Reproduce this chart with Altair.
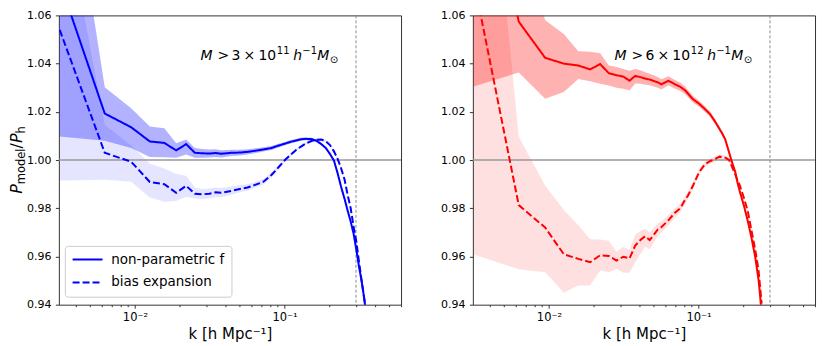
import altair as alt
import pandas as pd

FONT = "DejaVu Sans"
BLUE = "#0000ff"
RED = "#ff0000"
METHODS = ["non-parametric f", "bias expansion"]

# ---------------- left panel: M > 3e11 h^-1 Msun ----------------
k_left = [0.00314, 0.00628, 0.00943, 0.01257, 0.01571, 0.01885, 0.02199, 0.02513,
          0.02828, 0.03142, 0.03456, 0.03770, 0.04398, 0.05027, 0.05655, 0.06283,
          0.07226, 0.08168, 0.09111, 0.10053, 0.10996, 0.11938, 0.12881, 0.13823,
          0.15080, 0.16336, 0.17593, 0.18850, 0.20106, 0.21363, 0.22619, 0.23876,
          0.25133, 0.26389, 0.27646, 0.28903, 0.30159, 0.31416, 0.32673, 0.33929,
          0.34558]
np_left = [1.0740, 1.0193, 1.0136, 1.0077, 1.0071, 1.0040, 1.0066, 1.0030,
           1.0028, 1.0027, 1.0029, 1.0026, 1.0030, 1.0031, 1.0034, 1.0038,
           1.0044, 1.0050, 1.0060, 1.0068, 1.0076, 1.0081, 1.0086, 1.0088,
           1.0087, 1.0080, 1.0066, 1.0050, 1.0025, 0.9998, 0.9945, 0.9888,
           0.9840, 0.9790, 0.9745, 0.9695, 0.9628, 0.9558, 0.9500, 0.9432,
           0.9395]
np_left_lo = [1.0098, 1.0080, 1.0050, 1.0013, 1.0012, 1.0009, 1.0023, 1.0009,
              1.0010, 1.0011, 1.0013, 1.0011, 1.0017, 1.0019, 1.0023, 1.0028,
              1.0035, 1.0042, 1.0052, 1.0061, 1.0069, 1.0075, 1.0080, 1.0082,
              1.0082, 1.0075, 1.0061, 1.0045, 1.0020, 0.9993, 0.9940, 0.9883,
              0.9835, 0.9785, 0.9740, 0.9690, 0.9623, 0.9553, 0.9495, 0.9427,
              0.9390]
np_left_hi = [1.1500, 1.0302, 1.0215, 1.0139, 1.0132, 1.0070, 1.0085, 1.0050,
              1.0046, 1.0044, 1.0045, 1.0041, 1.0043, 1.0043, 1.0045, 1.0048,
              1.0053, 1.0058, 1.0068, 1.0075, 1.0083, 1.0087, 1.0092, 1.0094,
              1.0092, 1.0085, 1.0071, 1.0055, 1.0030, 1.0003, 0.9950, 0.9893,
              0.9845, 0.9795, 0.9750, 0.9700, 0.9633, 0.9563, 0.9505, 0.9437,
              0.9400]
bias_left = [1.0540, 1.0030, 0.9993, 0.9909, 0.9900, 0.9864, 0.9893, 0.9860,
             0.9858, 0.9860, 0.9866, 0.9864, 0.9872, 0.9880, 0.9886, 0.9896,
             0.9910, 0.9938, 0.9970, 1.0000, 1.0022, 1.0042, 1.0056, 1.0068,
             1.0079, 1.0084, 1.0085, 1.0078, 1.0062, 1.0036, 1.0005, 0.9965,
             0.9920, 0.9855, 0.9800, 0.9725, 0.9662, 0.9578, 0.9502, 0.9432,
             0.9400]
bias_left_lo = [0.9915, 0.9918, 0.9910, 0.9845, 0.9827, 0.9830, 0.9848, 0.9840,
                0.9838, 0.9840, 0.9846, 0.9846, 0.9856, 0.9866, 0.9873, 0.9884,
                0.9899, 0.9928, 0.9961, 0.9992, 1.0015, 1.0036, 1.0050, 1.0062,
                1.0073, 1.0079, 1.0080, 1.0073, 1.0057, 1.0031, 1.0000, 0.9960,
                0.9915, 0.9850, 0.9795, 0.9720, 0.9657, 0.9573, 0.9497, 0.9427,
                0.9395]
bias_left_hi = [1.1140, 1.0146, 1.0060, 0.9985, 0.9965, 0.9942, 0.9935, 0.9885,
                0.9880, 0.9882, 0.9886, 0.9884, 0.9890, 0.9896, 0.9900, 0.9909,
                0.9921, 0.9948, 0.9979, 1.0008, 1.0029, 1.0048, 1.0062, 1.0074,
                1.0085, 1.0089, 1.0090, 1.0083, 1.0067, 1.0041, 1.0010, 0.9970,
                0.9925, 0.9860, 0.9805, 0.9730, 0.9667, 0.9583, 0.9507, 0.9437,
                0.9405]

# ---------------- right panel: M > 6e12 h^-1 Msun ----------------
k_right = [0.00314, 0.00628, 0.00943, 0.01257, 0.01571, 0.01885, 0.02199, 0.02513,
           0.02828, 0.03142, 0.03456, 0.03770, 0.04084, 0.04398, 0.04712, 0.05341,
           0.05655, 0.06283, 0.06912, 0.07540, 0.08168, 0.08482, 0.09111, 0.10053,
           0.10996, 0.11938, 0.12881, 0.13823, 0.14451, 0.15080, 0.16022, 0.16651,
           0.17593, 0.18221, 0.18850, 0.20106, 0.21363, 0.22619, 0.23876, 0.25133,
           0.25761, 0.26389]
np_right = [1.1500, 1.0574, 1.0424, 1.0400, 1.0392, 1.0376, 1.0398, 1.0360,
            1.0352, 1.0346, 1.0329, 1.0349, 1.0344, 1.0338, 1.0334, 1.0322,
            1.0314, 1.0329, 1.0315, 1.0304, 1.0288, 1.0276, 1.0254, 1.0234,
            1.0212, 1.0190, 1.0160, 1.0128, 1.0108, 1.0085, 1.0030, 0.9995,
            0.9950, 0.9905, 0.9870, 0.9810, 0.9745, 0.9675, 0.9600, 0.9505,
            0.9440, 0.9360]
np_right_lo = [1.0305, 1.0363, 1.0254, 1.0282, 1.0336, 1.0327, 1.0316, 1.0309,
               1.0300, 1.0296, 1.0288, 1.0318, 1.0316, 1.0312, 1.0310, 1.0300,
               1.0293, 1.0310, 1.0297, 1.0287, 1.0272, 1.0261, 1.0240, 1.0221,
               1.0200, 1.0179, 1.0150, 1.0119, 1.0099, 1.0077, 1.0022, 0.9988,
               0.9943, 0.9899, 0.9864, 0.9804, 0.9739, 0.9669, 0.9594, 0.9499,
               0.9434, 0.9354]
np_right_hi = [1.3000, 1.1000, 1.0580, 1.0523, 1.0451, 1.0449, 1.0443, 1.0392,
               1.0386, 1.0378, 1.0370, 1.0378, 1.0372, 1.0364, 1.0358, 1.0344,
               1.0335, 1.0348, 1.0333, 1.0321, 1.0304, 1.0291, 1.0268, 1.0247,
               1.0224, 1.0201, 1.0170, 1.0137, 1.0117, 1.0093, 1.0038, 1.0002,
               0.9957, 0.9911, 0.9876, 0.9816, 0.9751, 0.9681, 0.9606, 0.9511,
               0.9446, 0.9366]
bias_right = [1.0747, 0.9813, 0.9720, 0.9609, 0.9590, 0.9576, 0.9605, 0.9602,
              0.9583, 0.9599, 0.9592, 0.9645, 0.9668, 0.9684, 0.9668, 0.9712,
              0.9722, 0.9750, 0.9780, 0.9800, 0.9838, 0.9852, 0.9890, 0.9948,
              0.9982, 0.9995, 1.0004, 1.0014, 1.0012, 1.0010, 1.0000, 0.9975,
              0.9940, 0.9915, 0.9895, 0.9842, 0.9785, 0.9705, 0.9630, 0.9545,
              0.9475, 0.9405]
bias_right_lo = [0.9608, 0.9547, 0.9535, 0.9450, 0.9480, 0.9480, 0.9542, 0.9535,
                 0.9548, 0.9532, 0.9532, 0.9575, 0.9610, 0.9640, 0.9630, 0.9685,
                 0.9700, 0.9728, 0.9760, 0.9782, 0.9822, 0.9837, 0.9876, 0.9935,
                 0.9970, 0.9984, 0.9993, 1.0004, 1.0003, 1.0001, 0.9992, 0.9967,
                 0.9933, 0.9908, 0.9888, 0.9836, 0.9779, 0.9699, 0.9624, 0.9539,
                 0.9469, 0.9399]
bias_right_hi = [1.2000, 1.0098, 0.9894, 0.9793, 0.9730, 0.9671, 0.9670, 0.9665,
                 0.9620, 0.9640, 0.9628, 0.9690, 0.9705, 0.9715, 0.9700, 0.9738,
                 0.9745, 0.9772, 0.9800, 0.9818, 0.9854, 0.9867, 0.9904, 0.9961,
                 0.9994, 1.0006, 1.0015, 1.0024, 1.0021, 1.0019, 1.0008, 0.9983,
                 0.9947, 0.9922, 0.9902, 0.9848, 0.9791, 0.9711, 0.9636, 0.9551,
                 0.9481, 0.9411]

# axes
x_domain = [0.0031, 0.6]
y_domain = [0.94, 1.06]
x_ticks = [0.004, 0.005, 0.006, 0.007, 0.008, 0.009, 0.01,
           0.02, 0.03, 0.04, 0.05, 0.06, 0.07, 0.08, 0.09, 0.1,
           0.2, 0.3, 0.4, 0.5, 0.6]
y_ticks = [0.94, 0.96, 0.98, 1.00, 1.02, 1.04, 1.06]
ref_line = [1.0]
k_cut = [0.3]

W, H = 343, 290

xscale = alt.Scale(type="log", domain=x_domain, nice=False)
yscale = alt.Scale(domain=y_domain, nice=False, zero=False)
xaxis = alt.Axis(
    values=x_ticks,
    labelExpr="datum.value == 0.01 ? '10⁻²' : (datum.value == 0.1 ? '10⁻¹' : '')",
    tickSize={"condition": {"test": "datum.value == 0.01 || datum.value == 0.1", "value": 3.5}, "value": 2},
    labelPadding=3, labelOverlap=False, labelFlush=False, labelFontSize=11.5,
    title="k [h Mpc⁻¹]", titlePadding=4,
)
yaxis = alt.Axis(values=y_ticks, format=".2f", tickSize=3.5, labelPadding=4.5, title=None)


def X(field="k"):
    return alt.X(f"{field}:Q", scale=xscale, axis=xaxis)


def Y(field):
    return alt.Y(f"{field}:Q", scale=yscale, axis=yaxis)


def text_piece(txt, x, y, size, style="normal", angle=0):
    return alt.Chart(pd.DataFrame({"t": [txt]})).mark_text(
        font=FONT, fontSize=size, fontStyle=style, align="left",
        baseline="alphabetic", angle=angle, color="black",
    ).encode(text="t:N", x=alt.value(x), y=alt.value(y))


def panel(k, npv, np_lo, np_hi, bx, bx_lo, bx_hi, color, op_np, op_bx,
          mass_coef, mass_exp, show_legend, show_ytitle):
    df = pd.DataFrame({"k": k, "np_lo": np_lo, "np_hi": np_hi,
                       "bx_lo": bx_lo, "bx_hi": bx_hi})
    long = pd.concat([
        pd.DataFrame({"k": k, "ratio": npv, "method": METHODS[0]}),
        pd.DataFrame({"k": k, "ratio": bx, "method": METHODS[1]}),
    ])
    band_bx = alt.Chart(df).mark_area(color=color, opacity=op_bx, clip=True).encode(
        x=X(), y=Y("bx_lo"), y2="bx_hi:Q")
    band_np = alt.Chart(df).mark_area(color=color, opacity=op_np, clip=True).encode(
        x=X(), y=Y("np_lo"), y2="np_hi:Q")
    hline = alt.Chart(pd.DataFrame({"one": ref_line})).mark_rule(
        color="#999999", strokeWidth=1.5).encode(y=Y("one"))
    vline = alt.Chart(pd.DataFrame({"k": k_cut})).mark_rule(
        color="#808080", strokeWidth=0.9, strokeDash=[3, 2]).encode(x=X())
    if show_legend:
        legend = alt.Legend(
            title=None, orient="none", legendX=6, legendY=231,
            symbolType="M-3,0H3", symbolSize=100, symbolStrokeWidth=2,
            symbolOffset=9, symbolStrokeColor=color,
            labelFont=FONT, labelFontSize=13.5, labelColor="black",
            labelOffset=17, padding=7, rowPadding=8,
            fillColor="rgba(255,255,255,0.85)", strokeColor="#cccccc",
            cornerRadius=3, labelLimit=300,
        )
    else:
        legend = None
    lines = alt.Chart(long).mark_line(color=color, strokeWidth=2, clip=True).encode(
        x=X(), y=Y("ratio"),
        strokeDash=alt.StrokeDash(
            "method:N",
            scale=alt.Scale(domain=METHODS, range=[[1, 0], [7, 3]]),
            legend=legend),
    )
    layers = [band_bx, band_np, hline, vline, lines]
    # annotation  M > c x 10^e h^-1 M_sun
    ax0, ay = 142, 45
    layers += [
        text_piece("M", ax0, ay, 14, "italic"),
        text_piece(">", ax0 + 17, ay, 14),
        text_piece(mass_coef, ax0 + 31, ay, 14),
        text_piece("×", ax0 + 43, ay, 14),
        text_piece("10", ax0 + 58, ay, 14),
        text_piece(mass_exp, ax0 + 76.5, ay - 6, 10),
        text_piece("h", ax0 + 93, ay, 14, "italic"),
        text_piece("−1", ax0 + 102, ay - 6, 10),
        text_piece("M", ax0 + 117, ay, 14, "italic"),
        text_piece("⊙", ax0 + 129.5, ay + 3, 10),
    ]
    if show_ytitle:
        B = -37
        layers += [
            text_piece("P", B, 178.9, 16, "italic", 270),
            text_piece("model", B + 3.5, 169.2, 11.5, "normal", 270),
            text_piece("/", B, 133.4, 16, "normal", 270),
            text_piece("P", B, 128.0, 16, "italic", 270),
            text_piece("h", B + 3.5, 118.4, 11.5, "normal", 270),
        ]
    return alt.layer(*layers).properties(width=W, height=H)


left = panel(k_left, np_left, np_left_lo, np_left_hi, bias_left, bias_left_lo,
             bias_left_hi, BLUE, 0.3, 0.1, "3", "11", True, True)
right = panel(k_right, np_right, np_right_lo, np_right_hi, bias_right, bias_right_lo,
              bias_right_hi, RED, 0.3, 0.12, "6", "12", False, False)

chart = (
    alt.hconcat(left, right, spacing=37)
    .resolve_scale(strokeDash="independent")
    .resolve_legend(strokeDash="independent")
    .properties(padding={"left": 0, "top": 0, "right": 5, "bottom": 0},
                background="white")
    .configure_view(stroke="#333333", strokeWidth=1)
    .configure_axis(labelFont=FONT, labelFontSize=11, labelColor="black",
                    titleFont=FONT, titleFontSize=15, titleColor="black",
                    titleFontWeight="normal", tickColor="#333333",
                    domain=False, grid=False)
)

chart.save("out.html", embed_options={"renderer": "svg", "actions": False})
